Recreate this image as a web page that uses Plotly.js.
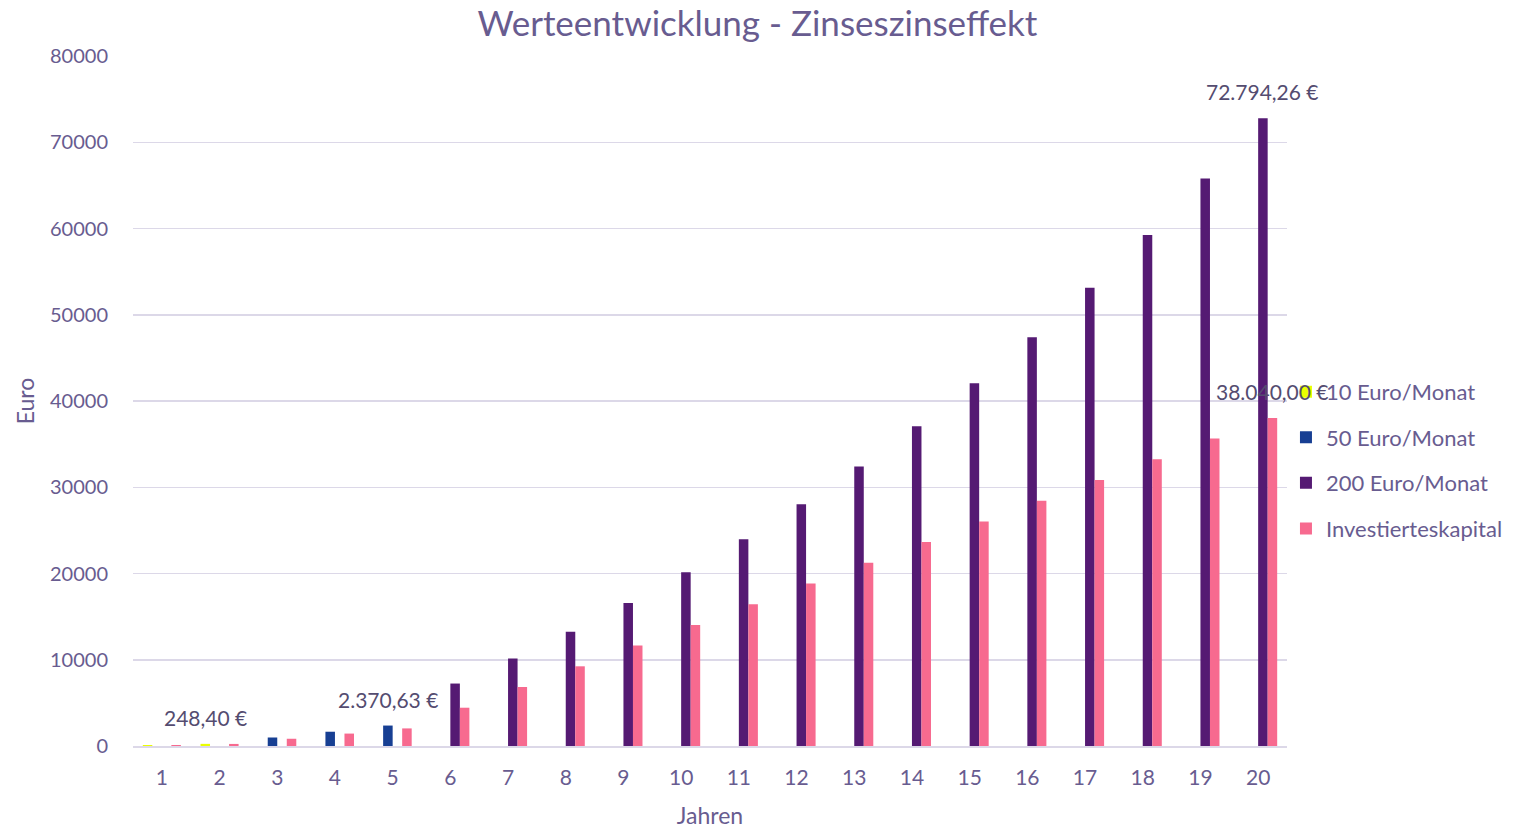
<!DOCTYPE html>
<html>
<head>
<meta charset="utf-8">
<script src="https://cdn.plot.ly/plotly-3.0.1.min.js"></script>
<style>html,body{margin:0;padding:0;background:#fff;}#chart{width:1524px;height:836px;}</style>
</head>
<body>
<div id="chart"></div>
<script>
var years = [1,2,3,4,5,6,7,8,9,10,11,12,13,14,15,16,17,18,19,20];
var tickLabels = ['1','2','3','4','5','6','7','8','9','10','11','12','13','14','15','16','17','18','19','20'];
var names = ['10 Euro/Monat','50 Euro/Monat','200 Euro/Monat','Investierteskapital'];
var euro10 = [120, 248.40, null,null,null,null,null,null,null,null,null,null,null,null,null,null,null,null,null,null];
var euro50 = [null,null, 985.8, 1654.8, 2370.63, null,null,null,null,null,null,null,null,null,null,null,null,null,null,null];
var euro200 = [null,null,null,null,null, 7242.3, 10149.3, 13259.7, 16587.9, 20149.0, 23959.4, 28036.6, 32399.2, 37067.1, 42061.8, 47405.1, 53123.5, 59242.1, 65789.0, 72794.26];
var invested = [120, 240, 840, 1440, 2040, 4440, 6840, 9240, 11640, 14040, 16440, 18840, 21240, 23640, 26040, 28440, 30840, 33240, 35640, 38040];
var labelPoints = [
  {series:0, year:2, text:'248,40 €'},
  {series:1, year:5, text:'2.370,63 €'},
  {series:2, year:20, text:'72.794,26 €'},
  {series:3, year:20, text:'38.040,00 €'}
];

var colors = ['#eaff00','#173f93','#551a73','#f76a8f'];
var seriesData = [euro10, euro50, euro200, invested];
var FONT = 'Lato, "Source Sans Pro", sans-serif';
var TXT = '#685c90';

var traces = seriesData.map(function(d,i){
  return {type:'bar', x:years, y:d, name:names[i], marker:{color:colors[i]},
          legendgroup:'g'+i, hoverinfo:'x+y'};
});

var bargap = 0.34;
var slot = (1-bargap)/4;
var annotations = labelPoints.map(function(p){
  var off = -((1-bargap)/2) + slot*(p.series+0.5);
  return {x:p.year+off, y:seriesData[p.series][p.year-1], xref:'x', yref:'y',
          text:p.text, showarrow:false, yanchor:'bottom', yshift:12,
          font:{family:FONT, size:21, color:'#544c70'}};
});

var layout = {
  width:1524, height:836,
  margin:{l:133, r:237, t:56, b:90},
  paper_bgcolor:'#ffffff', plot_bgcolor:'#ffffff',
  font:{family:FONT, color:TXT, size:20},
  title:{text:'Werteentwicklung - Zinseszinseffekt', x:0.497, xanchor:'center', y:0.972, yanchor:'middle',
         font:{family:FONT, size:35, color:TXT}},
  barmode:'group', bargap:bargap, bargroupgap:0,
  xaxis:{tickmode:'array', tickvals:years, ticktext:tickLabels, range:[0.5,20.5],
         showgrid:false, zeroline:false, showline:true, linecolor:'#dcd8e8', linewidth:2,
         ticks:'', ticklen:0, tickfont:{family:FONT, size:21, color:TXT}, ticklabelstandoff:12,
         title:{text:'Jahren', font:{family:FONT, size:23, color:TXT}, standoff:20}},
  yaxis:{range:[0,80000], dtick:10000, tickformat:'d', showgrid:true, gridcolor:'#dcd8e8', gridwidth:1.5,
         zeroline:false, showline:false, ticks:'', tickfont:{family:FONT, size:20, color:TXT},
         ticklabelstandoff:24,
         title:{text:'Euro', font:{family:FONT, size:23, color:TXT}, standoff:8}},
  legend:{x:0.9991, xanchor:'left', y:0.414, yanchor:'middle', traceorder:'grouped', tracegroupgap:14,
          font:{family:FONT, size:22, color:TXT}, bgcolor:'rgba(0,0,0,0)'},
  annotations:annotations
};

Plotly.newPlot('chart', traces, layout, {displayModeBar:false, staticPlot:true});
</script>
</body>
</html>
